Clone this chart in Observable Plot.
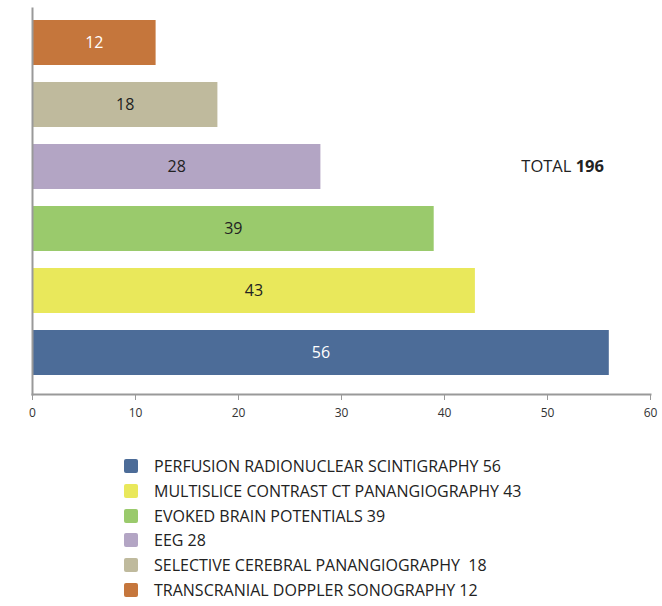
<!DOCTYPE html>
<html>
<head>
<meta charset="utf-8">
<script src="https://cdn.jsdelivr.net/npm/d3@7"></script>
<script src="https://cdn.jsdelivr.net/npm/@observablehq/plot@0.6"></script>
<style>
  html, body { margin: 0; padding: 0; background: #fff; }
  body { width: 662px; height: 606px; overflow: hidden; font-family: "Open Sans", sans-serif; }
  #legend { margin: 30px 0 0 124px; }
  .row { display: flex; align-items: center; height: 24.7px; font-size: 16px; color: #222; white-space: pre; }
  .sw { width: 14px; height: 14px; border-radius: 2px; margin-right: 16px; flex: none; }
</style>
</head>
<body>
<div id="chart"></div>
<div id="legend"></div>
<script>
// Data (top-to-bottom order in the chart)
const categories = [
  "TRANSCRANIAL DOPPLER SONOGRAPHY",
  "SELECTIVE CEREBRAL PANANGIOGRAPHY",
  "EEG",
  "EVOKED BRAIN POTENTIALS",
  "MULTISLICE CONTRAST CT PANANGIOGRAPHY",
  "PERFUSION RADIONUCLEAR SCINTIGRAPHY"
];
const values = [12, 18, 28, 39, 43, 56];
const colors = ["#c5763c", "#bfba9d", "#b3a5c4", "#9aca6c", "#e9e85b", "#4c6c98"];
const labelColors = ["#ffffff", "#222222", "#222222", "#222222", "#222222", "#ffffff"];
const legendLabels = [
  "PERFUSION RADIONUCLEAR SCINTIGRAPHY 56",
  "MULTISLICE CONTRAST CT PANANGIOGRAPHY 43",
  "EVOKED BRAIN POTENTIALS 39",
  "EEG 28",
  "SELECTIVE CEREBRAL PANANGIOGRAPHY  18",
  "TRANSCRANIAL DOPPLER SONOGRAPHY 12"
];
const xTicks = [0, 10, 20, 30, 40, 50, 60];
const totalLabel = "TOTAL";

const data = categories.map((c, i) => ({cat: c, value: values[i], color: colors[i], lc: labelColors[i]}));
const total = d3.sum(values);

const chart = Plot.plot({
  width: 662,
  height: 424,
  marginLeft: 32,
  marginRight: 12,
  marginTop: 8,
  marginBottom: 30,
  style: {fontFamily: "Open Sans, sans-serif", background: "#fff"},
  x: {domain: [0, 60], ticks: xTicks, label: null},
  y: {domain: categories, paddingInner: 0.27, paddingOuter: 0.2, align: 0.38, axis: null},
  marks: [
    Plot.barX(data, {x: "value", y: "cat", fill: "color"}),
    Plot.text(data, {x: d => d.value / 2, y: "cat", text: d => String(d.value), fill: "lc", fontSize: 16}),
    Plot.frame({anchor: "left", stroke: "#999", strokeWidth: 2}),
    Plot.frame({anchor: "bottom", stroke: "#999", strokeWidth: 2}),
    Plot.axisX({ticks: xTicks, tickSize: 6, tickPadding: 8, stroke: "#999", fill: "#333", fontSize: 12, label: null})
  ]
});
// TOTAL annotation with bold number
const yScale = chart.scale("y");
const svg = d3.select(chart);
const t = svg.append("text")
  .attr("x", 604)
  .attr("y", yScale.apply("EEG") + yScale.bandwidth / 2)
  .attr("text-anchor", "end")
  .attr("dy", "0.35em")
  .attr("font-size", 16.5)
  .attr("fill", "#222")
  .attr("font-family", "Open Sans, sans-serif");
t.append("tspan").text(totalLabel + " ");
t.append("tspan").attr("font-weight", "bold").text(total);
document.getElementById("chart").appendChild(chart);

const legend = document.getElementById("legend");
legendLabels.forEach((lab, i) => {
  const row = document.createElement("div");
  row.className = "row";
  const sw = document.createElement("div");
  sw.className = "sw";
  sw.style.background = colors[colors.length - 1 - i];
  const tx = document.createElement("span");
  tx.textContent = lab;
  row.appendChild(sw);
  row.appendChild(tx);
  legend.appendChild(row);
});
</script>
</body>
</html>
